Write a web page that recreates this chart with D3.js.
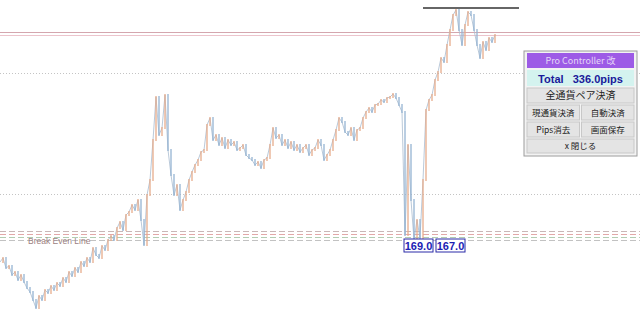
<!DOCTYPE html>
<html>
<head>
<meta charset="utf-8">
<script src="https://cdn.jsdelivr.net/npm/d3@7"></script>
<style>
  html, body { margin: 0; padding: 0; background: #fff; }
  svg { display: block; }
</style>
</head>
<body>
<svg id="chart"></svg>
<script>
// closes, one per bar (price in pips above the chart floor)
const closes = [
  49, 53, 43, 45, 36, 39, 31, 36, 29, 23, 19, 11, 3, 15, 11, 21, 18, 25, 21, 28,
  25, 33, 29, 39, 35, 43, 39, 49, 45, 53, 49, 63, 56, 53, 65, 61, 71, 75, 71, 83,
  89, 81, 96, 99, 106, 101, 111, 91, 66, 116, 131, 171, 214, 176, 183, 216, 161, 136, 116, 126,
  101, 111, 119, 131, 139, 146, 151, 159, 161, 186, 193, 171, 176, 166, 173, 163, 171, 166, 169, 161,
  163, 166, 156, 153, 151, 146, 149, 143, 151, 153, 166, 183, 173, 176, 166, 171, 163, 169, 161, 166,
  159, 163, 166, 156, 161, 163, 171, 166, 151, 156, 161, 171, 181, 193, 189, 179, 176, 183, 171, 181,
  183, 193, 199, 203, 199, 206, 207, 211, 209, 213, 214, 217, 213, 206, 199, 76, 166, 111, 71, 91,
  73, 131, 201, 211, 216, 231, 239, 253, 249, 266, 281, 296, 301, 281, 266, 286, 299, 296, 281, 266,
  253, 269, 261, 273, 269, 276
];

// horizontal levels
const pinkLevels = [279, 276];
const dottedLevels = [238, 117];
const breakEven = [80, 77, 74, 71];
const highLine = { value: 303, from: 141, to: 173 };

const lowLabels = ["169.0", "167.0"];
const panelTitle = "Pro Controller 改";
const panelTotal = "Total   336.0pips";
const panelButtons = [["全通貨ペア決済"], ["現通貨決済", "自動決済"], ["Pips消去", "画面保存"], ["x 閉じる"]];

const width = 640, height = 311;

const svg = d3.select("#chart").attr("width", width).attr("height", height);

const x = d3.scaleLinear().domain([0, closes.length - 1]).range([0, 495]);
const y = d3.scaleLinear().domain([0, 311]).range([height, 0]);

// level lines
svg.selectAll(".pink").data(pinkLevels).enter().append("line")
  .attr("x1", 0).attr("x2", width)
  .attr("y1", d => y(d) + 0.5).attr("y2", d => y(d) + 0.5)
  .attr("stroke", (d, i) => i === 0 ? "#d4a6ae" : "#ecc4cc")
  .attr("stroke-width", 1.2);

svg.selectAll(".dot").data(dottedLevels).enter().append("line")
  .attr("x1", 0).attr("x2", width)
  .attr("y1", d => y(d) + 0.5).attr("y2", d => y(d) + 0.5)
  .attr("stroke", "#c4c4c4")
  .attr("stroke-dasharray", "1,2");

const beColors = ["#c9b7b7", "#e2a8a8", "#b2cdb2", "#c2c2c2"];
svg.selectAll(".be").data(breakEven).enter().append("line")
  .attr("x1", 0).attr("x2", width)
  .attr("y1", d => y(d) + 0.5).attr("y2", d => y(d) + 0.5)
  .attr("stroke", (d, i) => beColors[i])
  .attr("stroke-dasharray", "6,3");

svg.append("text")
  .attr("x", 28).attr("y", y(breakEven[3]) + 4)
  .attr("font-family", "Arial, 'Liberation Sans', sans-serif")
  .attr("font-size", 8.5)
  .attr("fill", "#9c7f7f")
  .text("Break Even Line");

// price trace
svg.append("path")
  .datum(closes)
  .attr("d", d3.line().x((d, i) => x(i)).y(d => y(d)))
  .attr("fill", "none")
  .attr("stroke", "#a9bccf")
  .attr("stroke-width", 1)
  .attr("opacity", 0.8);

// bars
const bars = d3.range(1, closes.length).map(i => ({ i, o: closes[i - 1], c: closes[i] }));
svg.selectAll(".bar").data(bars).enter().append("rect")
  .attr("x", d => x(d.i) - 0.75)
  .attr("y", d => y(Math.max(d.o, d.c)) - 1)
  .attr("width", 1.5)
  .attr("height", d => Math.abs(y(d.o) - y(d.c)) + 2)
  .attr("fill", d => d.c >= d.o ? "#e6aa8a" : "#94b3d1")
  .attr("opacity", 0.85);

// recent high
svg.append("line")
  .attr("x1", x(highLine.from)).attr("x2", x(highLine.to))
  .attr("y1", y(highLine.value)).attr("y2", y(highLine.value))
  .attr("stroke", "#666").attr("stroke-width", 2);

// low labels
const lbl = svg.selectAll(".lbl").data(lowLabels).enter().append("g")
  .attr("transform", (d, i) => `translate(${404 + i * 32},239)`);
lbl.append("rect").attr("width", 29).attr("height", 13)
  .attr("fill", "#fff").attr("stroke", "#2a2aa8").attr("stroke-width", 1);
lbl.append("text").attr("x", 14.5).attr("y", 10.5)
  .attr("text-anchor", "middle")
  .attr("font-family", "Arial, 'Liberation Sans', sans-serif")
  .attr("font-size", 11).attr("font-weight", "bold")
  .attr("fill", "#1c22b4")
  .text(d => d);

// controller panel
const panel = svg.append("g").attr("transform", "translate(524,51)");
const jp = "'Noto Sans CJK JP', sans-serif";
panel.append("rect").attr("width", 113).attr("height", 105)
  .attr("fill", "#f3f3f3").attr("stroke", "#9c9c9c");
panel.append("rect").attr("x", 3).attr("y", 2).attr("width", 107).attr("height", 15)
  .attr("fill", "#9d5be6");
panel.append("text").attr("x", 56.5).attr("y", 13)
  .attr("text-anchor", "middle").attr("font-family", jp).attr("font-size", 9)
  .attr("fill", "#e4d6f6").text(panelTitle);
panel.append("rect").attr("x", 3).attr("y", 19).attr("width", 107).attr("height", 16)
  .attr("fill", "#d4f3ef");
panel.append("text").attr("x", 56.5).attr("y", 31.5)
  .attr("text-anchor", "middle").attr("font-family", "Arial, 'Liberation Sans', sans-serif")
  .attr("font-size", 11).attr("font-weight", "bold")
  .attr("fill", "#1a1a9a").attr("xml:space", "preserve").text(panelTotal);

const rowY = [37, 54, 71, 88];
const rowH = [15, 15, 15, 14];
panelButtons.forEach((row, r) => {
  const w = row.length === 1 ? 107 : 52.5;
  row.forEach((label, c) => {
    const bx = 3 + c * 54.5;
    panel.append("rect").attr("x", bx).attr("y", rowY[r]).attr("width", w).attr("height", rowH[r])
      .attr("fill", "#e4e4e4").attr("stroke", "#c8c8c8");
    panel.append("text").attr("x", bx + w / 2).attr("y", rowY[r] + rowH[r] - 4)
      .attr("text-anchor", "middle").attr("font-family", jp)
      .attr("font-size", r === 0 ? 10 : 8.5).attr("fill", "#222").text(label);
  });
});
</script>
</body>
</html>
